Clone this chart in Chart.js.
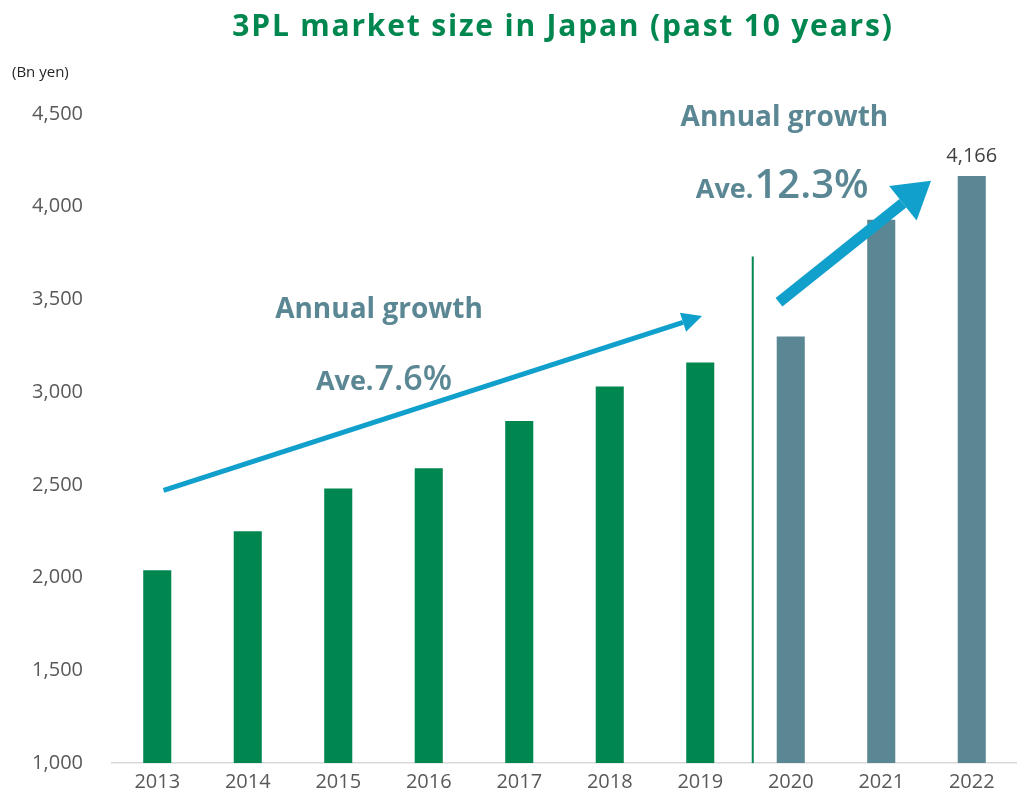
<!DOCTYPE html>
<html lang="en">
  <head>
    <meta charset="UTF-8">
    <title>3PL market size in Japan</title>
    <script src="https://cdn.jsdelivr.net/npm/chart.js"></script>
    <style>
      html, body { margin: 0; padding: 0; background: #ffffff; }
      #wrap { width: 1017px; height: 802px; position: relative; }
    </style>
  </head>
  <body>
    <div id="wrap"><canvas id="chart" width="1017" height="802"></canvas></div>
    <script>
      const years = ["2013", "2014", "2015", "2016", "2017", "2018", "2019", "2020", "2021", "2022"];
      const marketSize = [2040, 2250, 2480, 2590, 2845, 3030, 3160, 3300, 3930, 4166];
      const yTicks = [1000, 1500, 2000, 2500, 3000, 3500, 4000, 4500];
      const barColors = ["#00874f", "#00874f", "#00874f", "#00874f", "#00874f", "#00874f", "#00874f", "#5a8793", "#5a8793", "#5a8793"];
      const labelledYear = "2022";
      const chartTitle = "3PL market size in Japan (past 10 years)";

      const tickFont = "'Open Sans', 'Liberation Sans', sans-serif";
      const headFont = "'Open Sans', 'DejaVu Sans', sans-serif";

      function drawArrow(ctx, x1, y1, x2, y2, width, headLen, headW, color) {
        const ang = Math.atan2(y2 - y1, x2 - x1);
        const bx = x2 - Math.cos(ang) * headLen;
        const by = y2 - Math.sin(ang) * headLen;
        ctx.save();
        ctx.strokeStyle = color;
        ctx.fillStyle = color;
        ctx.lineWidth = width;
        ctx.beginPath();
        ctx.moveTo(x1, y1);
        ctx.lineTo(bx, by);
        ctx.stroke();
        ctx.beginPath();
        ctx.moveTo(x2, y2);
        ctx.lineTo(bx + Math.sin(ang) * headW, by - Math.cos(ang) * headW);
        ctx.lineTo(bx - Math.sin(ang) * headW, by + Math.cos(ang) * headW);
        ctx.closePath();
        ctx.fill();
        ctx.restore();
      }

      // x index can be fractional, so interpolate between category centres
      function xAt(scale, idx) {
        const a = scale.getPixelForValue(0);
        const b = scale.getPixelForValue(1);
        return a + (b - a) * idx;
      }

      const overlay = {
        id: "overlay",
        afterDatasetsDraw(chart) {
          const ctx = chart.ctx;
          const x = chart.scales.x;
          const y = chart.scales.y;

          // title
          ctx.save();
          ctx.fillStyle = "#00874f";
          ctx.font = "bold 30px " + headFont;
          ctx.letterSpacing = "1.8px";
          ctx.textAlign = "center";
          ctx.textBaseline = "middle";
          ctx.fillText(chartTitle, 563, 27);
          ctx.letterSpacing = "0px";

          // unit label
          ctx.fillStyle = "#262626";
          ctx.font = "15px " + tickFont;
          ctx.textAlign = "left";
          ctx.fillText("(Bn yen)", 12, 73);

          // value label over last bar
          const i = years.indexOf(labelledYear);
          const bar = chart.getDatasetMeta(0).data[i];
          ctx.fillStyle = "#404040";
          ctx.font = "20px " + tickFont;
          ctx.textAlign = "center";
          ctx.textBaseline = "bottom";
          ctx.fillText(marketSize[i].toLocaleString("en-US"), bar.x, bar.y - 10);

          // divider between 2019 and 2020
          ctx.strokeStyle = "#00874f";
          ctx.lineWidth = 2;
          ctx.beginPath();
          ctx.moveTo(xAt(x, 6.58), y.getPixelForValue(3732));
          ctx.lineTo(xAt(x, 6.58), y.getPixelForValue(1000));
          ctx.stroke();
          ctx.restore();

          // growth arrows
          drawArrow(ctx, xAt(x, 0.07), y.getPixelForValue(2470), xAt(x, 6.02), y.getPixelForValue(3410), 5, 20, 10, "#10a0cb");
          drawArrow(ctx, xAt(x, 6.87), y.getPixelForValue(3485), xAt(x, 8.55), y.getPixelForValue(4140), 11, 36, 22, "#10a0cb");

          // growth captions
          ctx.save();
          ctx.fillStyle = "#5a8793";
          ctx.textAlign = "center";
          ctx.textBaseline = "middle";
          ctx.font = "bold 28px " + headFont;
          ctx.fillText("Annual growth", xAt(x, 2.45), y.getPixelForValue(3442));
          ctx.fillText("Annual growth", xAt(x, 6.93), y.getPixelForValue(4478));

          function ave(big, cx, cy, smallSize, bigSize) {
            const f1 = "bold " + smallSize + "px " + headFont;
            const f2 = "600 " + bigSize + "px " + headFont;
            ctx.font = f1;
            const w1 = ctx.measureText("Ave.").width;
            ctx.font = f2;
            const w2 = ctx.measureText(big).width;
            const left = cx - (w1 + w2) / 2;
            ctx.textAlign = "left";
            ctx.textBaseline = "alphabetic";
            ctx.font = f1;
            ctx.fillText("Ave.", left, cy);
            ctx.font = f2;
            ctx.fillText(big, left + w1 + 1, cy);
          }
          ave("7.6%", xAt(x, 2.5), y.getPixelForValue(3083) + 13, 27, 34);
          ave("12.3%", xAt(x, 6.9), y.getPixelForValue(4129) + 15, 27, 40);
          ctx.restore();
        }
      };

      new Chart(document.getElementById("chart"), {
        type: "bar",
        data: {
          labels: years,
          datasets: [{
            data: marketSize,
            backgroundColor: barColors,
            borderWidth: 0,
            barPercentage: 0.31,
            categoryPercentage: 1.0,
          }],
        },
        options: {
          responsive: false,
          animation: false,
          layout: { padding: { left: 0, right: 0, top: 114, bottom: 0 } },
          plugins: {
            legend: { display: false },
            tooltip: { enabled: false },
            title: { display: false },
          },
          scales: {
            x: {
              grid: { display: false, drawTicks: false },
              border: { display: true, color: "#d9d9d9", width: 1.5 },
              ticks: { color: "#595959", font: { family: tickFont, size: 20, lineHeight: 0.6 }, padding: 13, maxRotation: 0 },
            },
            y: {
              min: 1000,
              max: 4500,
              afterBuildTicks(scale) { scale.ticks = yTicks.map(v => ({ value: v })); },
              afterFit(scale) { scale.width = 112; },
              grid: { display: false, drawTicks: false },
              border: { display: false },
              ticks: {
                color: "#595959",
                font: { family: tickFont, size: 20, lineHeight: 1 },
                padding: 29,
                callback: v => v.toLocaleString("en-US"),
              },
            },
          },
        },
        plugins: [overlay],
      });
    </script>
  </body>
</html>
